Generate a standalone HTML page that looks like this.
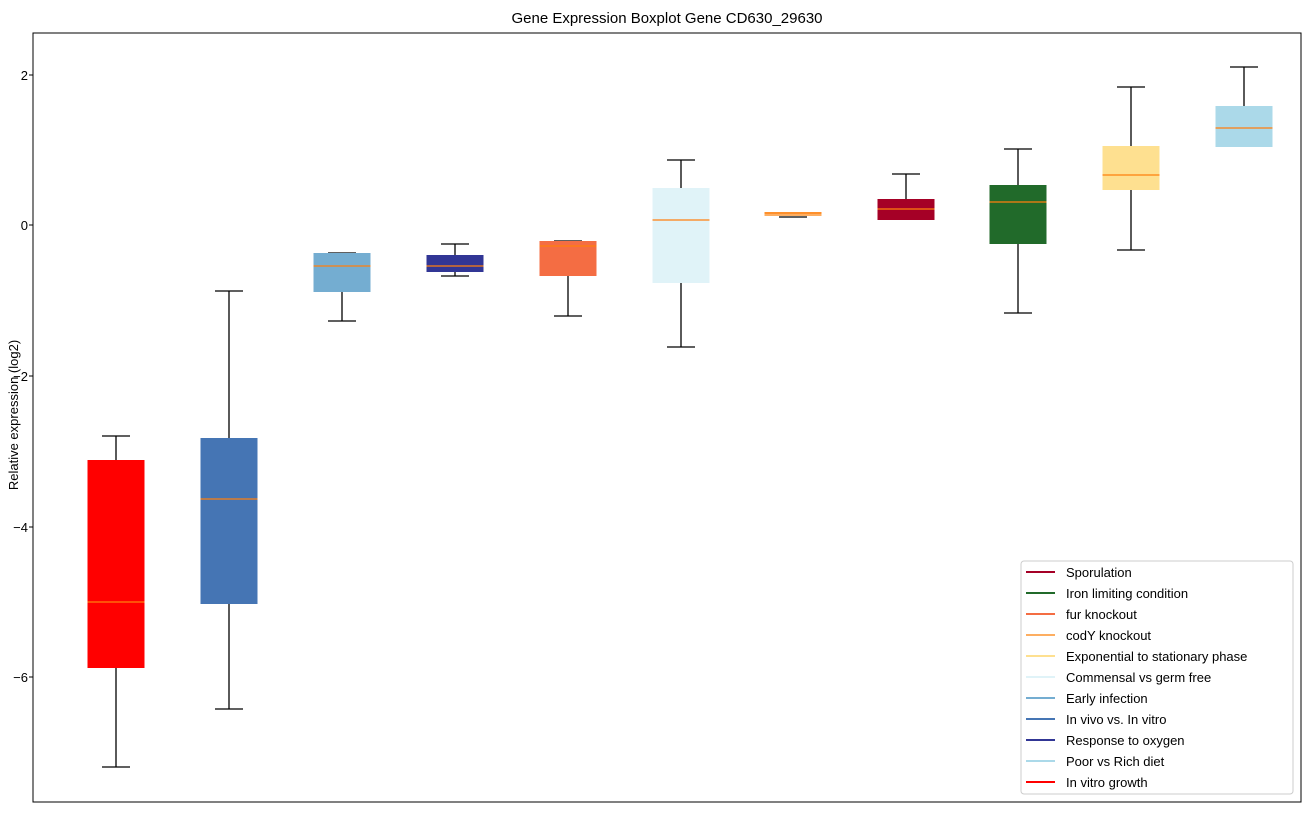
<!DOCTYPE html>
<html><head><meta charset="utf-8"><style>body{margin:0;background:#fff}</style></head><body>
<svg width="1309" height="812" xmlns="http://www.w3.org/2000/svg" font-family="Liberation Sans, DejaVu Sans, sans-serif">
<rect width="1309" height="812" fill="#fff"/>
<text x="667" y="23" font-size="15" text-anchor="middle">Gene Expression Boxplot Gene CD630_29630</text>
<text transform="translate(18,415) rotate(-90)" font-size="13" text-anchor="middle">Relative expression (log2)</text>
<g font-size="13" text-anchor="end">
<text x="28" y="80">2</text><line x1="29" x2="33" y1="75" y2="75" stroke="#000"/>
<text x="28" y="230">0</text><line x1="29" x2="33" y1="225" y2="225" stroke="#000"/>
<text x="28" y="381">−2</text><line x1="29" x2="33" y1="376" y2="376" stroke="#000"/>
<text x="28" y="532">−4</text><line x1="29" x2="33" y1="527" y2="527" stroke="#000"/>
<text x="28" y="682">−6</text><line x1="29" x2="33" y1="677" y2="677" stroke="#000"/>
</g>
<g stroke-width="1.3">
<line x1="116" x2="116" y1="436" y2="460" stroke="#000"/><line x1="116" x2="116" y1="668" y2="767" stroke="#000"/>
<line x1="102" x2="130" y1="436" y2="436" stroke="#000"/><line x1="102" x2="130" y1="767" y2="767" stroke="#000"/>
<rect x="87.5" y="460" width="57" height="208" fill="#ff0000"/><line x1="87.5" x2="144.5" y1="602" y2="602" stroke="#ff7f0e"/>
<line x1="229" x2="229" y1="291" y2="438" stroke="#000"/><line x1="229" x2="229" y1="604" y2="709" stroke="#000"/>
<line x1="215" x2="243" y1="291" y2="291" stroke="#000"/><line x1="215" x2="243" y1="709" y2="709" stroke="#000"/>
<rect x="200.5" y="438" width="57" height="166" fill="#4575b4"/><line x1="200.5" x2="257.5" y1="499" y2="499" stroke="#ff7f0e"/>
<line x1="342" x2="342" y1="292" y2="321" stroke="#000"/>
<line x1="328" x2="356" y1="253" y2="253" stroke="#000"/><line x1="328" x2="356" y1="321" y2="321" stroke="#000"/>
<rect x="313.5" y="253" width="57" height="39" fill="#74add1"/><line x1="313.5" x2="370.5" y1="266" y2="266" stroke="#ff7f0e"/>
<line x1="455" x2="455" y1="244" y2="255" stroke="#000"/><line x1="455" x2="455" y1="272" y2="276" stroke="#000"/>
<line x1="441" x2="469" y1="244" y2="244" stroke="#000"/><line x1="441" x2="469" y1="276" y2="276" stroke="#000"/>
<rect x="426.5" y="255" width="57" height="17" fill="#313695"/><line x1="426.5" x2="483.5" y1="266" y2="266" stroke="#ff7f0e"/>
<line x1="568" x2="568" y1="276" y2="316" stroke="#000"/>
<line x1="554" x2="582" y1="241" y2="241" stroke="#000"/><line x1="554" x2="582" y1="316" y2="316" stroke="#000"/>
<rect x="539.5" y="241" width="57" height="35" fill="#f46d43"/><line x1="539.5" x2="596.5" y1="246" y2="246" stroke="#ff7f0e"/>
<line x1="681" x2="681" y1="160" y2="188" stroke="#000"/><line x1="681" x2="681" y1="283" y2="347" stroke="#000"/>
<line x1="667" x2="695" y1="160" y2="160" stroke="#000"/><line x1="667" x2="695" y1="347" y2="347" stroke="#000"/>
<rect x="652.5" y="188" width="57" height="95" fill="#e0f3f8"/><line x1="652.5" x2="709.5" y1="220" y2="220" stroke="#ff7f0e"/>
<line x1="779" x2="807" y1="217" y2="217" stroke="#000"/>
<rect x="764.5" y="212" width="57" height="4" fill="#fdae61"/><line x1="764.5" x2="821.5" y1="213" y2="213" stroke="#ff7f0e"/>
<line x1="906" x2="906" y1="174" y2="199" stroke="#000"/>
<line x1="892" x2="920" y1="174" y2="174" stroke="#000"/>
<rect x="877.5" y="199" width="57" height="21" fill="#a50026"/><line x1="877.5" x2="934.5" y1="209" y2="209" stroke="#ff7f0e"/>
<line x1="1018" x2="1018" y1="149" y2="185" stroke="#000"/><line x1="1018" x2="1018" y1="244" y2="313" stroke="#000"/>
<line x1="1004" x2="1032" y1="149" y2="149" stroke="#000"/><line x1="1004" x2="1032" y1="313" y2="313" stroke="#000"/>
<rect x="989.5" y="185" width="57" height="59" fill="#216a2a"/><line x1="989.5" x2="1046.5" y1="202" y2="202" stroke="#ff7f0e"/>
<line x1="1131" x2="1131" y1="87" y2="146" stroke="#000"/><line x1="1131" x2="1131" y1="190" y2="250" stroke="#000"/>
<line x1="1117" x2="1145" y1="87" y2="87" stroke="#000"/><line x1="1117" x2="1145" y1="250" y2="250" stroke="#000"/>
<rect x="1102.5" y="146" width="57" height="44" fill="#fee090"/><line x1="1102.5" x2="1159.5" y1="175" y2="175" stroke="#ff7f0e"/>
<line x1="1244" x2="1244" y1="67" y2="106" stroke="#000"/>
<line x1="1230" x2="1258" y1="67" y2="67" stroke="#000"/>
<rect x="1215.5" y="106" width="57" height="41" fill="#abd9e9"/><line x1="1215.5" x2="1272.5" y1="128" y2="128" stroke="#ff7f0e"/>
</g>
<rect x="33" y="33" width="1268" height="769" fill="none" stroke="#000" stroke-width="1"/>
<rect x="1021" y="561" width="272" height="233" rx="3" fill="#fff" fill-opacity="0.8" stroke="#ccc"/>
<g font-size="13" stroke-width="2">
<line x1="1026" x2="1055" y1="572" y2="572" stroke="#a50026"/><text x="1066" y="577">Sporulation</text>
<line x1="1026" x2="1055" y1="593" y2="593" stroke="#216a2a"/><text x="1066" y="598">Iron limiting condition</text>
<line x1="1026" x2="1055" y1="614" y2="614" stroke="#f46d43"/><text x="1066" y="619">fur knockout</text>
<line x1="1026" x2="1055" y1="635" y2="635" stroke="#fdae61"/><text x="1066" y="640">codY knockout</text>
<line x1="1026" x2="1055" y1="656" y2="656" stroke="#fee090"/><text x="1066" y="661">Exponential to stationary phase</text>
<line x1="1026" x2="1055" y1="677" y2="677" stroke="#e0f3f8"/><text x="1066" y="682">Commensal vs germ free</text>
<line x1="1026" x2="1055" y1="698" y2="698" stroke="#74add1"/><text x="1066" y="703">Early infection</text>
<line x1="1026" x2="1055" y1="719" y2="719" stroke="#4575b4"/><text x="1066" y="724">In vivo vs. In vitro</text>
<line x1="1026" x2="1055" y1="740" y2="740" stroke="#313695"/><text x="1066" y="745">Response to oxygen</text>
<line x1="1026" x2="1055" y1="761" y2="761" stroke="#abd9e9"/><text x="1066" y="766">Poor vs Rich diet</text>
<line x1="1026" x2="1055" y1="782" y2="782" stroke="#ff0000"/><text x="1066" y="787">In vitro growth</text>
</g>
</svg>
</body></html>
